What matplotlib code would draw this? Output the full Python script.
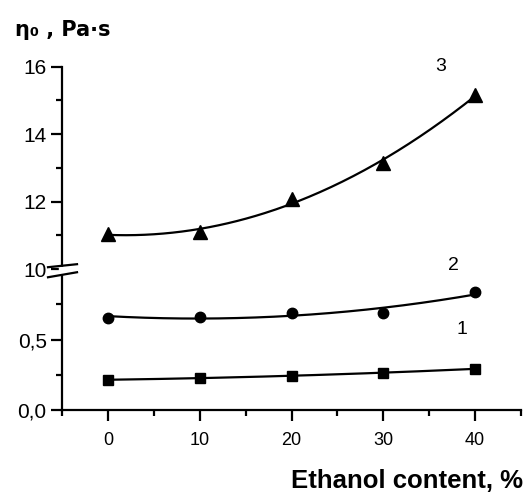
import numpy as np
import matplotlib
matplotlib.use('Agg')
import matplotlib.pyplot as plt
from matplotlib.ticker import FixedLocator, FixedFormatter
import matplotlib.transforms as mtrans

# ---- data ----
ethanol = [0, 10, 20, 30, 40]
eta_1 = [0.214, 0.228, 0.243, 0.264, 0.293]
eta_2 = [0.657, 0.664, 0.686, 0.690, 0.836]
eta_3 = [11.04, 11.10, 12.08, 13.15, 15.15]
series_labels = ['1', '2', '3']
x_ticks = [0, 10, 20, 30, 40]
x_minor = [-5, 5, 15, 25, 35, 45]
y_ticks = [0.0, 0.5, 10, 12, 14, 16]
y_tick_labels = ['0,0', '0,5', '10', '12', '14', '16']
y_minor = [0.25, 0.75, 11, 13, 15]

LOW_TOP = 1.0
HIGH_BOT = 10.0
K = 0.24


def fwd(y):
    y = np.asarray(y, float)
    return np.where(y <= LOW_TOP, y,
                    np.where(y >= HIGH_BOT, LOW_TOP + (y - HIGH_BOT) * K, LOW_TOP))


def inv(u):
    u = np.asarray(u, float)
    return np.where(u <= LOW_TOP, u, HIGH_BOT + (u - LOW_TOP) / K)


plt.rcParams['font.family'] = ['Liberation Sans', 'DejaVu Sans']

fig = plt.figure(figsize=(5.28, 4.93), dpi=100)
ax = fig.add_axes([62 / 528, 83 / 493, 459 / 528, (410 - 66.5) / 493])
ax.set_yscale('function', functions=(fwd, inv))
ax.set_xlim(-5, 45)
ax.set_ylim(0, 16)

xs = np.linspace(0, 40, 200)
markers = ['s', 'o', '^']
msizes = [7, 7.5, 10]
for ys, m, ms in zip([eta_1, eta_2, eta_3], markers, msizes):
    coef = np.polyfit(ethanol, ys, 2)
    ax.plot(xs, np.polyval(coef, xs), color='black', lw=1.6)
    ax.plot(ethanol, ys, linestyle='none', marker=m, ms=ms, color='black')

# curve labels
ax.text(36.2, 16.0, series_labels[2], fontsize=14, ha='center', va='center', clip_on=False)
ax.text(37.6, 10.1, series_labels[1], fontsize=14, ha='center', va='center')
ax.text(38.6, 0.571, series_labels[0], fontsize=14, ha='center', va='center')

for s in ['top', 'right']:
    ax.spines[s].set_visible(False)
for s in ['left', 'bottom']:
    ax.spines[s].set_linewidth(1.6)

ax.xaxis.set_major_locator(FixedLocator(x_ticks))
ax.xaxis.set_minor_locator(FixedLocator(x_minor))
ax.yaxis.set_major_locator(FixedLocator(y_ticks))
ax.yaxis.set_major_formatter(FixedFormatter(y_tick_labels))
ax.yaxis.set_minor_locator(FixedLocator(y_minor))
ax.yaxis.set_minor_formatter(FixedFormatter([''] * len(y_minor)))
ax.tick_params(axis='both', which='major', direction='out', length=8, width=1.6)
ax.tick_params(axis='both', which='minor', direction='out', length=4.5, width=1.6)
ax.tick_params(axis='x', which='major', labelsize=13, pad=8)
ax.tick_params(axis='y', which='major', labelsize=15, pad=3)

# axis break marks
trans = mtrans.blended_transform_factory(ax.transAxes, ax.transData)
ax.fill_between([-0.006, 0.006], float(inv(LOW_TOP - 4 / 140)), float(inv(LOW_TOP + 2 / 140)),
                color='white', transform=trans, clip_on=False, zorder=5)
ax.plot([-0.0305, 0.0327], [float(inv(LOW_TOP + 2 / 140)), float(inv(LOW_TOP + 5 / 140))],
        color='black', lw=1.6, transform=trans, clip_on=False, zorder=6)
ax.plot([-0.0305, 0.0327], [float(inv(LOW_TOP - 8 / 140)), float(inv(LOW_TOP - 3 / 140))],
        color='black', lw=1.6, transform=trans, clip_on=False, zorder=6)

fig.text(15 / 528, 1 - 30 / 493, 'η₀ , Pa·s', fontsize=15, fontweight='bold',
         ha='left', va='center', family=['DejaVu Sans'])
fig.text(523 / 528, 1 - 481 / 493, 'Ethanol content, %', fontsize=18.5, fontweight='bold',
         ha='right', va='center')

fig.savefig('out.png', dpi=100)
